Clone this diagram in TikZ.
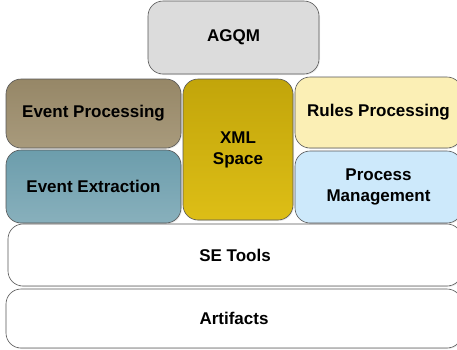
\documentclass[tikz,border=0pt]{standalone}
\usepackage{fontspec}
\setmainfont{Liberation Sans}
\usepackage{tikz}
\usetikzlibrary{shadows}

\definecolor{agqmgray}{HTML}{DCDCDC}
\definecolor{evproctop}{HTML}{968767}
\definecolor{evprocbot}{HTML}{A89A7C}
\definecolor{xmltop}{HTML}{C2A50A}
\definecolor{xmlbot}{HTML}{DDBE16}
\definecolor{rulesfill}{HTML}{FBEFB5}
\definecolor{extrtop}{HTML}{6C9DAC}
\definecolor{extrbot}{HTML}{88B0BC}
\definecolor{pmfill}{HTML}{CDE9FB}
\definecolor{boxline}{HTML}{555555}

\begin{document}
\begin{tikzpicture}[x=1pt,y=-1pt]
	\useasboundingbox (0,0) rectangle (457,349);
	\clip (0,0) rectangle (457,349);
	\begin{scope}[every node/.style={draw=boxline, line width=0.6pt, rounded corners=15pt,
	              align=center, font=\bfseries\fontsize{17}{21}\selectfont, inner sep=2pt,
	              drop shadow={opacity=0.15, shadow xshift=1pt, shadow yshift=-1pt}}]
	    	\node[fill=agqmgray, minimum width=171pt, minimum height=73pt]	(agqm) at (233.5,37.5) {AGQM};
	    	\node[top color=evproctop, bottom color=evprocbot, minimum width=175pt, minimum height=69pt]	(evproc) at (93.5,113.5) {Event Processing};
	    	\node[top color=xmltop, bottom color=xmlbot, minimum width=110pt, minimum height=141pt]	(xml) at (238,149.5) {XML\\Space};
	    	\node[fill=rulesfill, minimum width=167pt, minimum height=71pt]	(rules) at (378.5,112.5) {Rules Processing};
	    	\node[top color=extrtop, bottom color=extrbot, minimum width=175pt, minimum height=73pt]	(evextr) at (93.5,186.5) {Event Extraction};
	    	\node[fill=pmfill, minimum width=167pt, minimum height=72pt]	(procmgmt) at (378.5,187) {Process\\Management};
	    	\node[fill=white, minimum width=454pt, minimum height=62pt]	(setools) at (235,255) {SE Tools};
	    	\node[fill=white, minimum width=456pt, minimum height=59pt]	(artifacts) at (234,318.5) {Artifacts};
	\end{scope}
\end{tikzpicture}
\end{document}
